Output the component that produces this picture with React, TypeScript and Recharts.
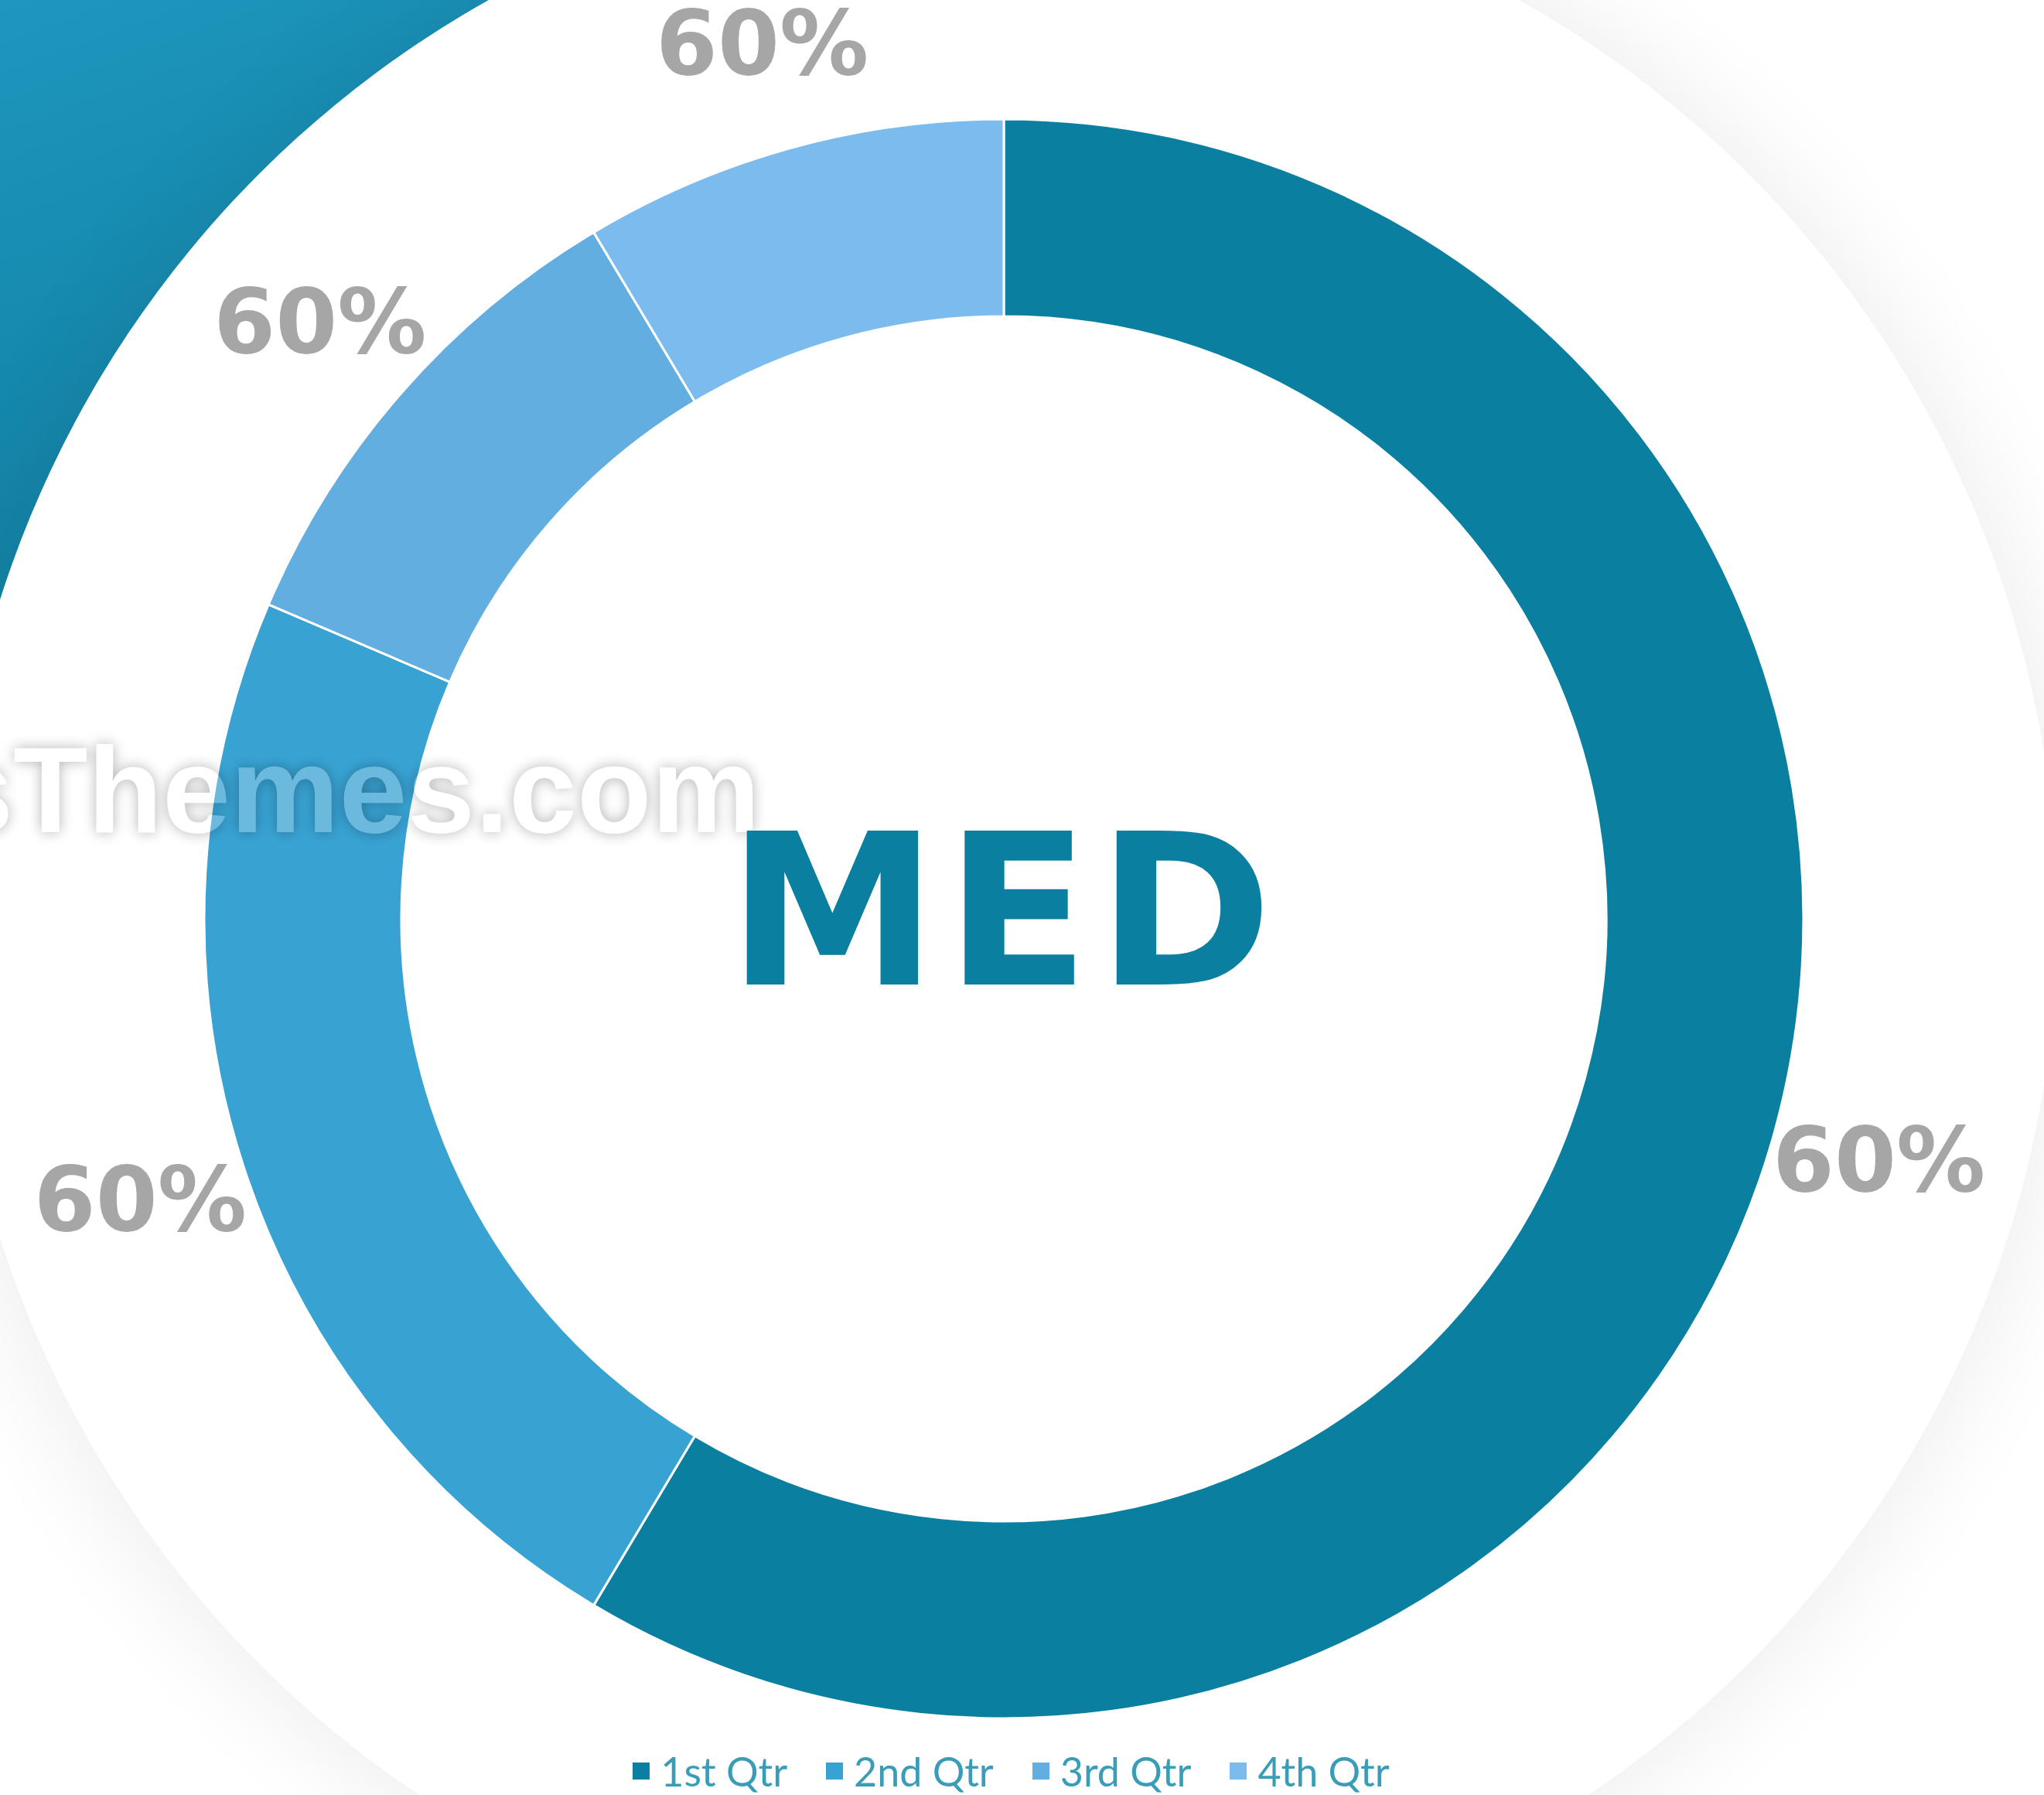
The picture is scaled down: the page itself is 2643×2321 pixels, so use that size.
import { Cell, Legend, Pie, PieChart } from "recharts";

const quarters = ["1st Qtr", "2nd Qtr", "3rd Qtr", "4th Qtr"];
const sales = [8.2, 3.2, 1.4, 1.2];
const labelTexts = ["60%", "60%", "60%", "60%"];
const sliceColors = ["#0B7FA0", "#38A3D3", "#62AEE0", "#7CBBEE"];
const centerText = "MED";
const watermarkText = "sThemes.com";

const W = 2643;
const H = 2321;
const CX = 1298;
const CY = 1188;
const RADIAN = Math.PI / 180;

const chartData = quarters.map((name, i) => ({ name, value: sales[i] }));

function renderLabel(props: any) {
  const { cx, cy, midAngle, outerRadius, index } = props;
  const r = outerRadius + 140;
  const x = cx + r * Math.cos(-midAngle * RADIAN);
  const y = cy + r * Math.sin(-midAngle * RADIAN);
  return (
    <text
      x={x}
      y={y}
      textAnchor="middle"
      dominantBaseline="central"
      fill="#A6A6A6"
      fontSize={115}
      fontWeight="bold"
      fontFamily="'DejaVu Sans', sans-serif"
    >
      {labelTexts[index]}
    </text>
  );
}

function renderLegend() {
  return (
    <div
      style={{
        display: "flex",
        justifyContent: "center",
        alignItems: "center",
        gap: 50,
        transform: "translateX(-14px)",
      }}
    >
      {quarters.map((q, i) => (
        <div key={q} style={{ display: "flex", alignItems: "center", gap: 14 }}>
          <span style={{ width: 22, height: 22, background: sliceColors[i], display: "inline-block" }} />
          <span style={{ fontFamily: "Lato, sans-serif", fontSize: 52, color: "#3A9DB8", lineHeight: "normal" }}>
            {q}
          </span>
        </div>
      ))}
    </div>
  );
}

export default function App() {
  const ringR = 1362;
  return (
    <div
      style={{
        position: "absolute",
        left: 0,
        top: 0,
        width: W,
        height: H,
        overflow: "hidden",
        background: "#fff",
      }}
    >
      {/* teal corner behind the big white disc */}
      <div
        style={{
          position: "absolute",
          left: 0,
          top: 0,
          width: 720,
          height: 840,
          background: "linear-gradient(160deg, #1E96BE 0%, #1689AE 45%, #0F7C9C 100%)",
        }}
      />
      <div
        style={{
          position: "absolute",
          left: CX - ringR,
          top: CY - ringR,
          width: ringR * 2,
          height: ringR * 2,
          borderRadius: "50%",
          background: "#fff",
          boxShadow: "0 0 130px 16px rgba(0,0,0,0.07)",
        }}
      />

      <div style={{ position: "absolute", left: 0, top: 0 }}>
        <PieChart width={W} height={H} margin={{ top: 0, right: 0, bottom: 0, left: 0 }}>
          <Pie
            data={chartData}
            dataKey="value"
            nameKey="name"
            cx={CX}
            cy={CY}
            innerRadius={779}
            outerRadius={1034}
            startAngle={90}
            endAngle={-270}
            stroke="#fff"
            strokeWidth={3}
            label={renderLabel}
            labelLine={false}
            isAnimationActive={false}
          >
            {chartData.map((d, i) => (
              <Cell key={d.name} fill={sliceColors[i]} />
            ))}
          </Pie>
          <Legend verticalAlign="bottom" align="center" wrapperStyle={{ bottom: 0 }} content={renderLegend} />
        </PieChart>
      </div>

      <svg
        width={W}
        height={H}
        style={{ position: "absolute", left: 0, top: 0, pointerEvents: "none" }}
      >
        <defs>
          <filter id="wmHalo" x="-10%" y="-60%" width="120%" height="220%">
            <feGaussianBlur in="SourceAlpha" stdDeviation="9" result="blur" />
            <feComposite in="blur" in2="SourceAlpha" operator="out" result="halo" />
            <feComponentTransfer in="halo">
              <feFuncA type="linear" slope="0.3" />
            </feComponentTransfer>
          </filter>
        </defs>
        <text
          x={983}
          y={1076}
          textAnchor="end"
          fontSize={158}
          fontWeight="bold"
          fontFamily="'Liberation Sans', Arial, sans-serif"
          fill="#000"
          filter="url(#wmHalo)"
        >
          {watermarkText}
        </text>
        <text
          x={983}
          y={1076}
          textAnchor="end"
          fontSize={158}
          fontWeight="bold"
          fontFamily="'Liberation Sans', Arial, sans-serif"
          fill="#fff"
          fillOpacity={0.26}
        >
          {watermarkText}
        </text>
        <text
          x={CX}
          y={1273}
          textAnchor="middle"
          fontSize={273}
          fontWeight="bold"
          letterSpacing={10}
          fontFamily="'DejaVu Sans', sans-serif"
          fill="#0B7FA0"
        >
          {centerText}
        </text>
      </svg>
    </div>
  );
}
